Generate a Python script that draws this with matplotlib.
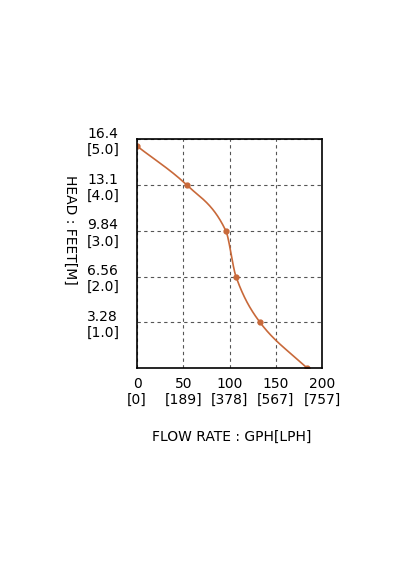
import numpy as np
import matplotlib
matplotlib.use("Agg")
import matplotlib.pyplot as plt

# datos
flow_gph = [0, 54, 96, 107, 133, 184]
head_ft = [15.9, 13.1, 9.84, 6.56, 3.28, 0]
y_ticks = [3.28, 6.56, 9.84, 13.1, 16.4]
y_labels = ["3.28\n[1.0]", "6.56\n[2.0]", "9.84\n[3.0]", "13.1\n[4.0]", "16.4\n[5.0]"]
x_ticks = [0, 50, 100, 150, 200]
x_labels = ["0\n[0]", "50\n[189]", "100\n[378]", "150\n[567]", "200\n[757]"]
COLOR = "#c8693a"


def pchip(x, y, xs):
    # interpolacion cubica monotona (Fritsch-Carlson)
    x = np.asarray(x, float); y = np.asarray(y, float)
    h = np.diff(x); d = np.diff(y) / h
    m = np.zeros_like(y)
    for k in range(1, len(x) - 1):
        if d[k - 1] * d[k] > 0:
            w1 = 2 * h[k] + h[k - 1]; w2 = h[k] + 2 * h[k - 1]
            m[k] = (w1 + w2) / (w1 / d[k - 1] + w2 / d[k])
    m[0] = d[0]; m[-1] = d[-1]
    idx = np.clip(np.searchsorted(x, xs) - 1, 0, len(h) - 1)
    t = (xs - x[idx]) / h[idx]
    h00 = 2 * t**3 - 3 * t**2 + 1; h10 = t**3 - 2 * t**2 + t
    h01 = -2 * t**3 + 3 * t**2; h11 = t**3 - t**2
    return h00 * y[idx] + h10 * h[idx] * m[idx] + h01 * y[idx + 1] + h11 * h[idx] * m[idx + 1]


fig = plt.figure(figsize=(4, 5.7), dpi=100)
ax = fig.add_axes([0.3425, 0.354, 0.4625, 0.402])

xs = np.linspace(flow_gph[0], flow_gph[-1], 400)
ax.plot(xs, pchip(flow_gph, head_ft, xs), color=COLOR, lw=1.2)
ax.plot(flow_gph, head_ft, "o", color=COLOR, ms=3.5)

ax.set_xlim(0, 200)
ax.set_ylim(0, 16.4)
ax.set_xticks(x_ticks)
ax.set_xticklabels(x_labels, fontsize=10)
ax.set_yticks(y_ticks)
ax.set_yticklabels(y_labels, fontsize=10, ha="left")
ax.tick_params(axis="y", length=0, pad=36)
ax.tick_params(axis="x", length=0, pad=6)
ax.grid(True, color="#555555", ls=(0, (3, 3)), lw=0.8)
for s in ax.spines.values():
    s.set_linewidth(1.2)

fig.text(0.58, 1 - 437 / 570, "FLOW RATE : GPH[LPH]", ha="center", va="center", fontsize=10)
fig.text(70 / 400, 1 - 230 / 570, "HEAD : FEET[M]", rotation=-90, ha="center", va="center", fontsize=10)

fig.savefig("out.png", dpi=100)
